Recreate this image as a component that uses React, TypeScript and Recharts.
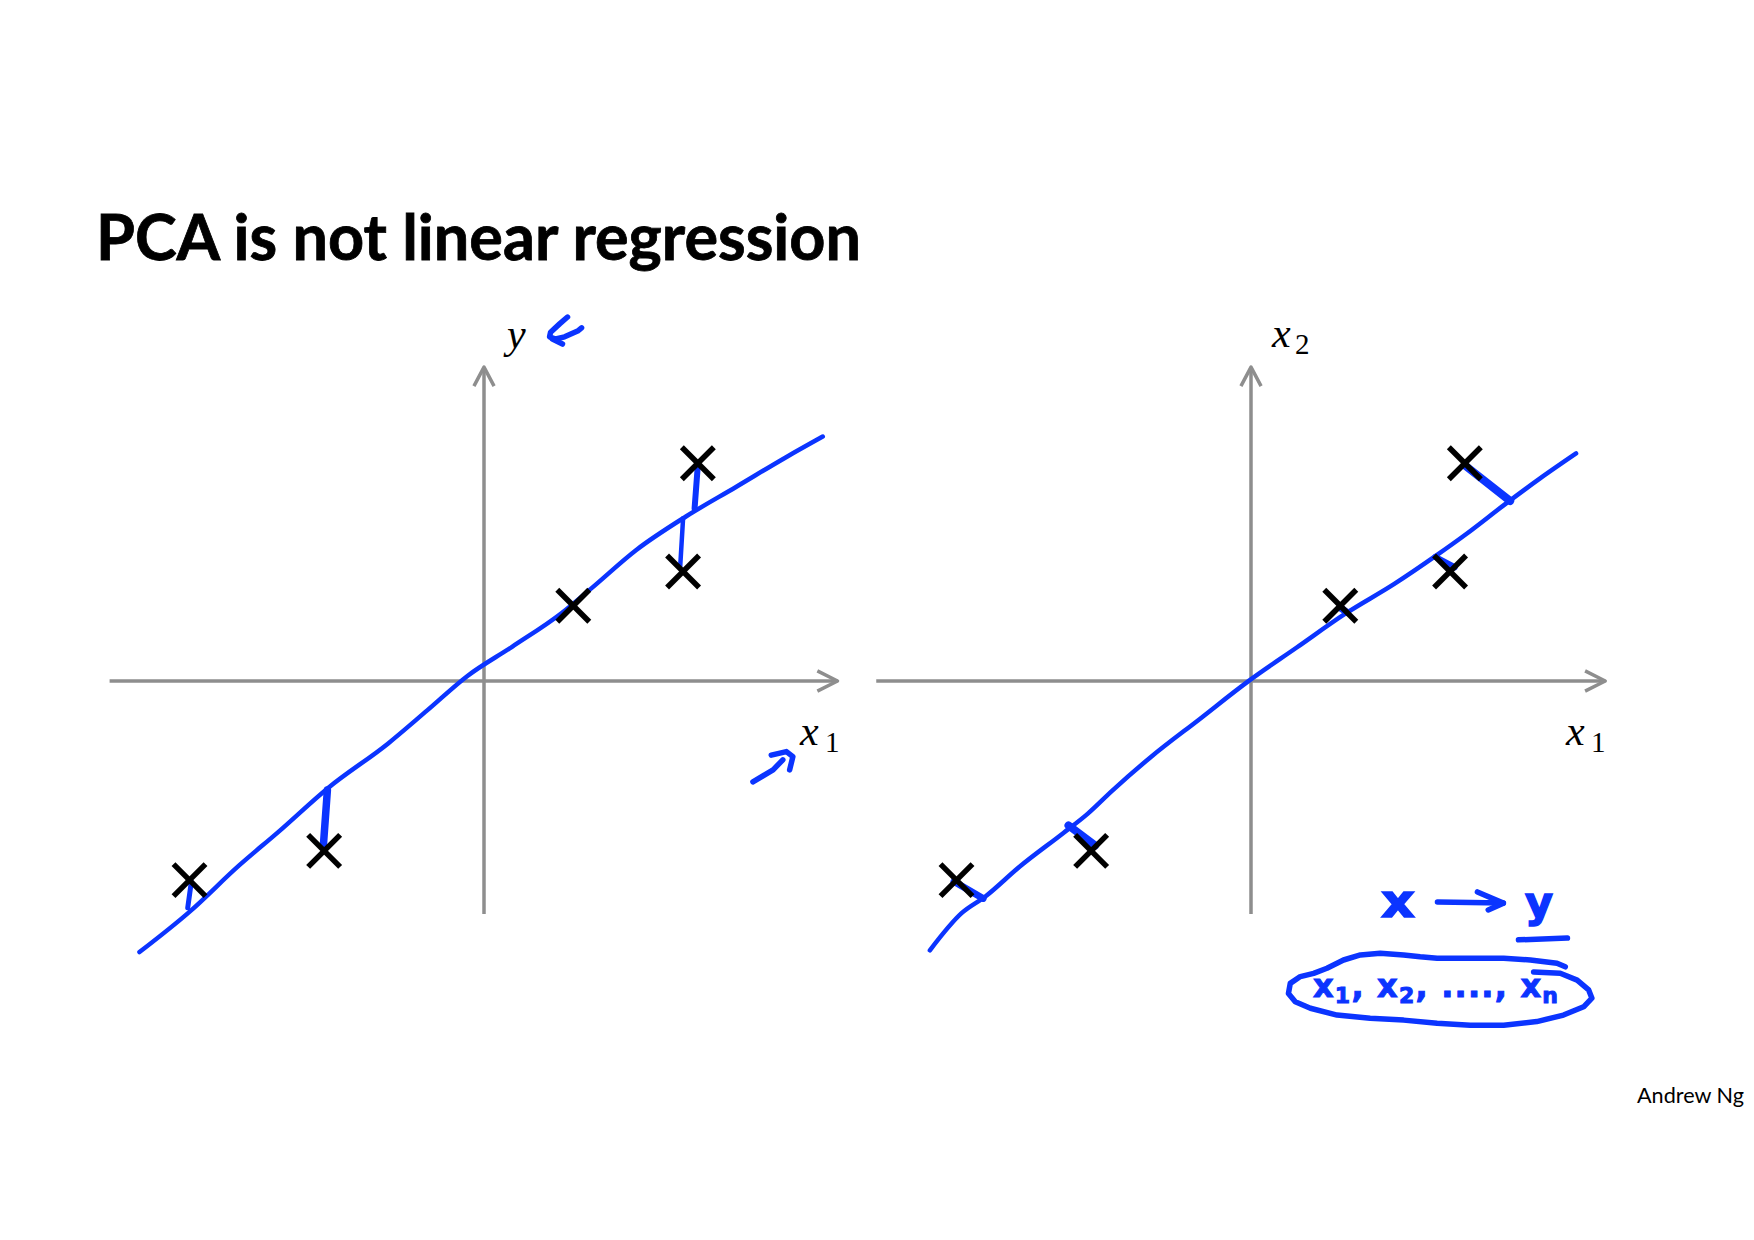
import React from 'react';
import { ComposedChart, Line, Scatter, XAxis, YAxis } from 'recharts';

// ---------- data (in data units; origin = axis crossing) ----------
const points = [
  { x: -8.18, y: -5.53 },
  { x: -4.44, y: -4.72 },
  { x: 2.48, y: 2.09 },
  { x: 5.53, y: 3.04 },
  { x: 5.94, y: 6.05 },
];

// hand-drawn regression line (left panel)
const regressionLine: number[][] = [
  [-9.57, -7.53], [-8.19, -6.42], [-6.81, -5.13], [-5.71, -4.19], [-4.33, -2.97],
  [-2.67, -1.74], [-1.57, -0.81], [-0.46, 0.14], [0.78, 0.95], [2.16, 1.89],
  [2.99, 2.58], [4.23, 3.64], [5.61, 4.57], [7.0, 5.39], [8.38, 6.21], [9.41, 6.79],
];
// vertical residuals (left panel)
const residuals: number[][][] = [
  [[-8.13, -5.58], [-8.23, -6.3]],
  [[-4.35, -3.03], [-4.46, -4.55]],
  [[5.53, 4.52], [5.45, 3.18]],
  [[5.94, 6.0], [5.85, 4.8]],
];
const residualWidths = [5, 7.5, 4.5, 6];

// hand-drawn principal component line (right panel)
const pcaLine: number[][] = [
  [-8.92, -7.48], [-8.04, -6.45], [-7.37, -5.98], [-6.43, -5.16], [-5.21, -4.22],
  [-4.54, -3.69], [-3.86, -3.05], [-2.78, -2.11], [-1.43, -1.06], [-0.08, -0.01],
  [1.27, 0.93], [2.62, 1.87], [3.97, 2.69], [5.18, 3.51], [5.99, 4.09],
  [7.07, 4.92], [8.02, 5.62], [9.03, 6.32],
];
// orthogonal projections (right panel)
const projections: number[][][] = [
  [[-8.25, -5.57], [-7.44, -6.04]],
  [[-5.07, -4.01], [-4.33, -4.57]],
  [[2.5, 2.02], [2.68, 1.9]],
  [[5.12, 3.45], [5.66, 3.16]],
  [[5.95, 5.98], [7.2, 5.0]],
];
const projectionWidths = [7, 8, 7, 6, 8];

// axes
const leftXAxis: number[][] = [[-10.4, 0], [9.82, 0]];
const leftXArrow: number[][] = [[9.26, 0.28], [9.82, 0], [9.26, -0.28]];
const rightXAxis: number[][] = [[-10.41, 0], [9.84, 0]];
const rightXArrow: number[][] = [[9.28, 0.28], [9.84, 0], [9.28, -0.28]];
const yAxisLine: number[][] = [[0, -6.47], [0, 8.72]];
const yArrow: number[][] = [[-0.28, 8.19], [0, 8.72], [0.28, 8.19]];

// hand-drawn annotations
const scribbleY1: number[][] = [
  [2.32, 10.11], [2.1, 9.92], [1.85, 9.69], [1.82, 9.56], [1.99, 9.5],
  [2.24, 9.56], [2.6, 9.72], [2.71, 9.81],
];
const scribbleY2: number[][] = [[1.9, 9.5], [2.18, 9.36]];
const scribbleX1Shaft: number[][] = [[7.47, -2.8], [8.03, -2.47], [8.3, -2.19]];
const scribbleX1Head: number[][] = [[7.98, -2.06], [8.4, -1.96], [8.58, -2.1], [8.49, -2.47]];
const noteArrowShaft: number[][] = [[5.18, -6.14], [7.01, -6.17]];
const noteArrowHead: number[][] = [[6.29, -5.86], [7.01, -6.17], [6.59, -6.36]];
const noteUnderline: number[][] = [[7.43, -7.19], [8.79, -7.14]];
const noteEllipse: number[][] = [
  [8.73, -7.94], [8.5, -7.84], [7.76, -7.75], [7.02, -7.7], [6.09, -7.7], [5.17, -7.7],
  [4.7, -7.66], [4.24, -7.61], [3.59, -7.56], [3.04, -7.61], [2.57, -7.75], [2.11, -7.98],
  [1.74, -8.12], [1.37, -8.21], [1.09, -8.4], [1.04, -8.68], [1.23, -8.91], [1.65, -9.09],
  [2.39, -9.28], [3.31, -9.37], [4.24, -9.42], [5.17, -9.51], [6.09, -9.56], [7.02, -9.56],
  [7.94, -9.46], [8.68, -9.28], [9.24, -9.05], [9.47, -8.81], [9.38, -8.58], [9.06, -8.31],
  [8.59, -8.12], [7.85, -8.08],
];

const leftXDomain = [-11, 11];
const leftYDomain = [-9, 11];
const rightXDomain = [-11, 11];
const rightYDomain = [-10, 11];

// ---------- styling ----------
const BLUE = '#0b34ff';
const GRAY = '#8e8e8e';
const UNIT = 36; // px per data unit

const toXY = (arr: number[][]) => arr.map(([x, y]) => ({ x, y }));

const path = (key: string, arr: number[][], color: string, width: number, curve: any = 'linear') => (
  <Line
    key={key}
    data={toXY(arr)}
    dataKey="y"
    type={curve}
    stroke={color}
    strokeWidth={width}
    strokeLinecap="round"
    strokeLinejoin="round"
    dot={false}
    activeDot={false}
    legendType="none"
    isAnimationActive={false}
  />
);

const axisPath = (key: string, arr: number[][]) => (
  <Line
    key={key}
    data={toXY(arr)}
    dataKey="y"
    type="linear"
    stroke={GRAY}
    strokeWidth={3.5}
    strokeLinecap="butt"
    strokeLinejoin="round"
    dot={false}
    activeDot={false}
    legendType="none"
    isAnimationActive={false}
  />
);

const Cross = (props: any) => {
  const { cx, cy } = props;
  const s = 16;
  return (
    <g>
      <line x1={cx - s} y1={cy - s} x2={cx + s} y2={cy + s} stroke="#000" strokeWidth={5.5} />
      <line x1={cx - s} y1={cy + s} x2={cx + s} y2={cy - s} stroke="#000" strokeWidth={5.5} />
    </g>
  );
};

const LEFT_ORIGIN = { x: 484, y: 681 };
const RIGHT_ORIGIN = { x: 1251, y: 681 };

function LeftPanel() {
  const w = (leftXDomain[1] - leftXDomain[0]) * UNIT;
  const h = (leftYDomain[1] - leftYDomain[0]) * UNIT;
  return (
    <div style={{ position: 'absolute', left: LEFT_ORIGIN.x + leftXDomain[0] * UNIT, top: LEFT_ORIGIN.y - leftYDomain[1] * UNIT }}>
      <ComposedChart width={w} height={h} margin={{ top: 0, right: 0, bottom: 0, left: 0 }}>
        <XAxis hide type="number" dataKey="x" domain={leftXDomain} allowDataOverflow />
        <YAxis hide type="number" dataKey="y" domain={leftYDomain} allowDataOverflow />
        {axisPath('lxa', leftXAxis)}
        {axisPath('lxh', leftXArrow)}
        {axisPath('lya', yAxisLine)}
        {axisPath('lyh', yArrow)}
        <Scatter data={points} dataKey="y" shape={Cross} isAnimationActive={false} legendType="none" />
        {path('reg', regressionLine, BLUE, 4.5, 'monotone')}
        {residuals.map((r, i) => path('res' + i, r, BLUE, residualWidths[i]))}
        {path('sy1', scribbleY1, BLUE, 5.5)}
        {path('sy2', scribbleY2, BLUE, 5.5)}
        {path('sx1', scribbleX1Shaft, BLUE, 5.5)}
        {path('sx2', scribbleX1Head, BLUE, 5.5)}
      </ComposedChart>
    </div>
  );
}

function RightPanel() {
  const w = (rightXDomain[1] - rightXDomain[0]) * UNIT;
  const h = (rightYDomain[1] - rightYDomain[0]) * UNIT;
  return (
    <div style={{ position: 'absolute', left: RIGHT_ORIGIN.x + rightXDomain[0] * UNIT, top: RIGHT_ORIGIN.y - rightYDomain[1] * UNIT }}>
      <ComposedChart width={w} height={h} margin={{ top: 0, right: 0, bottom: 0, left: 0 }}>
        <XAxis hide type="number" dataKey="x" domain={rightXDomain} allowDataOverflow />
        <YAxis hide type="number" dataKey="y" domain={rightYDomain} allowDataOverflow />
        {axisPath('rxa', rightXAxis)}
        {axisPath('rxh', rightXArrow)}
        {axisPath('rya', yAxisLine)}
        {axisPath('ryh', yArrow)}
        <Scatter data={points} dataKey="y" shape={Cross} isAnimationActive={false} legendType="none" />
        {path('pca', pcaLine, BLUE, 4.5, 'monotone')}
        {projections.map((r, i) => path('proj' + i, r, BLUE, projectionWidths[i]))}
        {path('nas', noteArrowShaft, BLUE, 5.5)}
        {path('nah', noteArrowHead, BLUE, 5.5)}
        {path('nul', noteUnderline, BLUE, 5.5)}
        {path('nel', noteEllipse, BLUE, 5.5)}
      </ComposedChart>
    </div>
  );
}

const SERIF = "'Liberation Serif', 'DejaVu Serif', serif";
const SANS = "Lato, 'Open Sans', sans-serif";
const HAND = "'DejaVu Sans', 'Noto Sans', sans-serif";

function Overlay() {
  return (
    <svg width={1754} height={1240} style={{ position: 'absolute', left: 0, top: 0, pointerEvents: 'none' }}>
      <text x={96} y={259.5} fontFamily={SANS} fontWeight={700} fontSize={64} fill="#000"
        stroke="#000" strokeWidth={0.8}
        textLength={765} lengthAdjust="spacingAndGlyphs">PCA is not linear regression</text>

      {/* left panel labels */}
      <text x={507} y={348} fontFamily={SERIF} fontStyle="italic" fontSize={42} fill="#000">y</text>
      <text x={800} y={745} fontFamily={SERIF} fontStyle="italic" fontSize={42} fill="#000">x</text>
      <text x={825} y={752} fontFamily={SERIF} fontSize={29} fill="#000">1</text>

      {/* right panel labels */}
      <text x={1272} y={347} fontFamily={SERIF} fontStyle="italic" fontSize={42} fill="#000">x</text>
      <text x={1295} y={354} fontFamily={SERIF} fontSize={29} fill="#000">2</text>
      <text x={1566} y={745} fontFamily={SERIF} fontStyle="italic" fontSize={42} fill="#000">x</text>
      <text x={1591} y={752} fontFamily={SERIF} fontSize={29} fill="#000">1</text>

      {/* handwritten notes */}
      <text x={1381} y={917} fontFamily={HAND} fontWeight={700} fontSize={46} fill={BLUE}
        stroke={BLUE} strokeWidth={1.5} textLength={34} lengthAdjust="spacingAndGlyphs">x</text>
      <text x={1525} y={917} fontFamily={HAND} fontWeight={700} fontSize={42} fill={BLUE}
        stroke={BLUE} strokeWidth={1.5} textLength={28} lengthAdjust="spacingAndGlyphs">y</text>
      <text x={1313} y={997} fontFamily={HAND} fontWeight={700} fontSize={32} fill={BLUE}
        stroke={BLUE} strokeWidth={1} textLength={245} lengthAdjust="spacing">
        x<tspan dy={6} fontSize={22}>1</tspan>
        <tspan dy={-6}>, x</tspan><tspan dy={6} fontSize={22}>2</tspan>
        <tspan dy={-6}>, ...., x</tspan><tspan dy={6} fontSize={22}>n</tspan>
      </text>

      <text x={1637} y={1103} fontFamily={SANS} fontSize={21} fill="#000"
        textLength={107} lengthAdjust="spacingAndGlyphs">Andrew Ng</text>
    </svg>
  );
}

export default function App() {
  return (
    <div style={{ position: 'absolute', left: 0, top: 0, width: 1754, height: 1240, background: '#fff', overflow: 'hidden' }}>
      <LeftPanel />
      <RightPanel />
      <Overlay />
    </div>
  );
}
